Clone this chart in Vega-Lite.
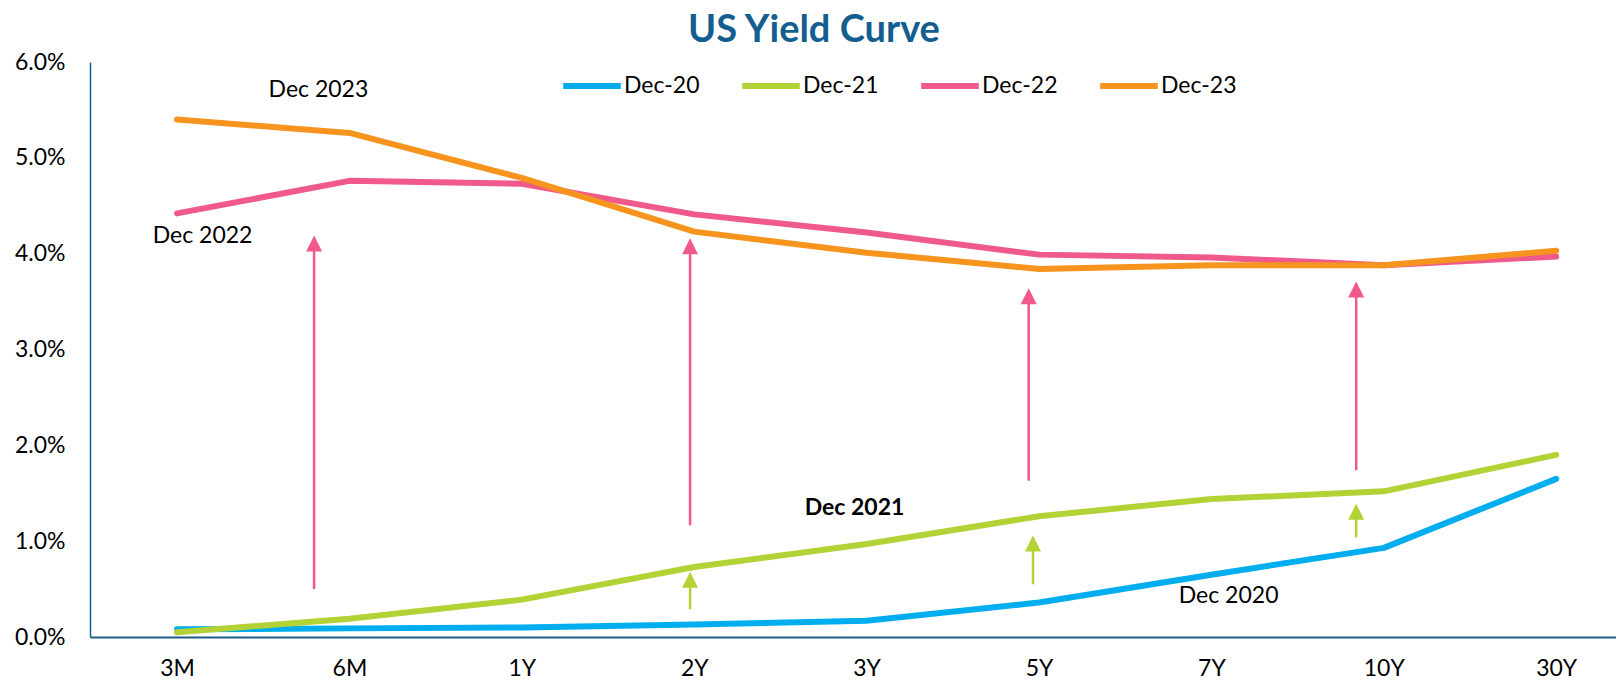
{
  "$schema": "https://vega.github.io/schema/vega-lite/v6.json",
  "width": 1526,
  "height": 575,
  "autosize": {"type": "none"},
  "padding": {"left": 90, "top": 62, "right": 0, "bottom": 44},
  "background": "white",
  "title": {
    "text": "US Yield Curve",
    "font": "Lato",
    "fontSize": 38,
    "fontWeight": "bold",
    "color": "#135E8F",
    "frame": "group",
    "anchor": "middle",
    "dx": -39,
    "offset": 1
  },
  "config": {
    "view": {"stroke": null},
    "axis": {"labelFont": "Lato", "labelFontSize": 23, "labelColor": "#000000", "ticks": false, "grid": false, "domainColor": "#1A5E8C", "domainWidth": 2, "title": null},
    "legend": {"labelFont": "Lato", "labelFontSize": 23, "labelColor": "#000000"}
  },
  "datasets": {
    "curves": [
      {"tenor": "3M", "pos": 0, "series": "Dec-20", "yield": 0.0008},
      {"tenor": "6M", "pos": 1, "series": "Dec-20", "yield": 0.0009},
      {"tenor": "1Y", "pos": 2, "series": "Dec-20", "yield": 0.0010},
      {"tenor": "2Y", "pos": 3, "series": "Dec-20", "yield": 0.0013},
      {"tenor": "3Y", "pos": 4, "series": "Dec-20", "yield": 0.0017},
      {"tenor": "5Y", "pos": 5, "series": "Dec-20", "yield": 0.0036},
      {"tenor": "7Y", "pos": 6, "series": "Dec-20", "yield": 0.0065},
      {"tenor": "10Y", "pos": 7, "series": "Dec-20", "yield": 0.0093},
      {"tenor": "30Y", "pos": 8, "series": "Dec-20", "yield": 0.0165},
      {"tenor": "3M", "pos": 0, "series": "Dec-21", "yield": 0.0005},
      {"tenor": "6M", "pos": 1, "series": "Dec-21", "yield": 0.0019},
      {"tenor": "1Y", "pos": 2, "series": "Dec-21", "yield": 0.0039},
      {"tenor": "2Y", "pos": 3, "series": "Dec-21", "yield": 0.0073},
      {"tenor": "3Y", "pos": 4, "series": "Dec-21", "yield": 0.0097},
      {"tenor": "5Y", "pos": 5, "series": "Dec-21", "yield": 0.0126},
      {"tenor": "7Y", "pos": 6, "series": "Dec-21", "yield": 0.0144},
      {"tenor": "10Y", "pos": 7, "series": "Dec-21", "yield": 0.0152},
      {"tenor": "30Y", "pos": 8, "series": "Dec-21", "yield": 0.0190},
      {"tenor": "3M", "pos": 0, "series": "Dec-22", "yield": 0.0442},
      {"tenor": "6M", "pos": 1, "series": "Dec-22", "yield": 0.0476},
      {"tenor": "1Y", "pos": 2, "series": "Dec-22", "yield": 0.0473},
      {"tenor": "2Y", "pos": 3, "series": "Dec-22", "yield": 0.0441},
      {"tenor": "3Y", "pos": 4, "series": "Dec-22", "yield": 0.0422},
      {"tenor": "5Y", "pos": 5, "series": "Dec-22", "yield": 0.0399},
      {"tenor": "7Y", "pos": 6, "series": "Dec-22", "yield": 0.0396},
      {"tenor": "10Y", "pos": 7, "series": "Dec-22", "yield": 0.0388},
      {"tenor": "30Y", "pos": 8, "series": "Dec-22", "yield": 0.0397},
      {"tenor": "3M", "pos": 0, "series": "Dec-23", "yield": 0.0540},
      {"tenor": "6M", "pos": 1, "series": "Dec-23", "yield": 0.0526},
      {"tenor": "1Y", "pos": 2, "series": "Dec-23", "yield": 0.0479},
      {"tenor": "2Y", "pos": 3, "series": "Dec-23", "yield": 0.0423},
      {"tenor": "3Y", "pos": 4, "series": "Dec-23", "yield": 0.0401},
      {"tenor": "5Y", "pos": 5, "series": "Dec-23", "yield": 0.0384},
      {"tenor": "7Y", "pos": 6, "series": "Dec-23", "yield": 0.0388},
      {"tenor": "10Y", "pos": 7, "series": "Dec-23", "yield": 0.0388},
      {"tenor": "30Y", "pos": 8, "series": "Dec-23", "yield": 0.0403}
    ],
    "arrows": [
      {"kind": "pink", "pos": 0.795, "from": 0.0050, "shaftTop": 0.0411, "tip": 0.0419},
      {"kind": "pink", "pos": 2.976, "from": 0.01165, "shaftTop": 0.0408, "tip": 0.0416},
      {"kind": "pink", "pos": 4.94, "from": 0.0163, "shaftTop": 0.0356, "tip": 0.0364},
      {"kind": "pink", "pos": 6.84, "from": 0.0174, "shaftTop": 0.0363, "tip": 0.0371},
      {"kind": "green", "pos": 2.976, "from": 0.0029, "shaftTop": 0.0060, "tip": 0.0068},
      {"kind": "green", "pos": 4.965, "from": 0.0055, "shaftTop": 0.0098, "tip": 0.0106},
      {"kind": "green", "pos": 6.84, "from": 0.0104, "shaftTop": 0.0131, "tip": 0.0139}
    ],
    "labels": [
      {"label": "Dec 2023", "pos": 0.82, "value": 0.0571, "emphasis": "normal"},
      {"label": "Dec 2022", "pos": 0.148, "value": 0.0418, "emphasis": "normal"},
      {"label": "Dec 2021", "pos": 3.93, "value": 0.0135, "emphasis": "bold"},
      {"label": "Dec 2020", "pos": 6.10, "value": 0.0043, "emphasis": "normal"}
    ]
  },
  "layer": [
    {
      "data": {"name": "arrows"},
      "transform": [{"filter": "datum.kind === 'pink'"}],
      "layer": [
        {
          "mark": {"type": "rule", "strokeWidth": 2.5, "color": "#F05A8A"},
          "encoding": {
            "x": {"field": "pos", "type": "quantitative"},
            "y": {"field": "from", "type": "quantitative"},
            "y2": {"field": "shaftTop"}
          }
        },
        {
          "mark": {"type": "point", "shape": "M-1,2L0,0L1,2Z", "size": 256, "filled": true, "opacity": 1, "strokeWidth": 0, "color": "#F05A8A"},
          "encoding": {
            "x": {"field": "pos", "type": "quantitative"},
            "y": {"field": "tip", "type": "quantitative"}
          }
        }
      ]
    },
    {
      "data": {"name": "arrows"},
      "transform": [{"filter": "datum.kind === 'green'"}],
      "layer": [
        {
          "mark": {"type": "rule", "strokeWidth": 2.5, "color": "#B2D235"},
          "encoding": {
            "x": {"field": "pos", "type": "quantitative"},
            "y": {"field": "from", "type": "quantitative"},
            "y2": {"field": "shaftTop"}
          }
        },
        {
          "mark": {"type": "point", "shape": "M-1,2L0,0L1,2Z", "size": 256, "filled": true, "opacity": 1, "strokeWidth": 0, "color": "#B2D235"},
          "encoding": {
            "x": {"field": "pos", "type": "quantitative"},
            "y": {"field": "tip", "type": "quantitative"}
          }
        }
      ]
    },
    {
      "data": {"name": "curves"},
      "mark": {"type": "line", "strokeWidth": 6, "strokeCap": "round", "strokeJoin": "round"},
      "encoding": {
        "x": {
          "field": "pos",
          "type": "quantitative",
          "scale": {"domain": [-0.505, 8.347], "nice": false, "zero": false},
          "axis": {
            "values": [0, 1, 2, 3, 4, 5, 6, 7, 8],
            "labelExpr": "['3M','6M','1Y','2Y','3Y','5Y','7Y','10Y','30Y'][datum.value]",
            "labelPadding": 20,
            "labelFlush": false,
            "labelOverlap": false
          }
        },
        "y": {
          "field": "yield",
          "type": "quantitative",
          "scale": {"domain": [0, 0.06], "nice": false},
          "axis": {"values": [0, 0.01, 0.02, 0.03, 0.04, 0.05, 0.06], "format": ".1%", "labelPadding": 25, "domainWidth": 1.5}
        },
        "color": {
          "field": "series",
          "type": "nominal",
          "scale": {"domain": ["Dec-20", "Dec-21", "Dec-22", "Dec-23"], "range": ["#00AEEF", "#B2D235", "#F05A8A", "#F7941D"]},
          "legend": {
            "orient": "none",
            "direction": "horizontal",
            "legendX": 470,
            "legendY": -8,
            "title": null,
            "symbolType": "stroke",
            "symbolSize": 3318,
            "symbolStrokeWidth": 6,
            "labelOffset": 0,
            "columnPadding": 30,
            "padding": 0
          }
        },
        "order": {"field": "pos", "type": "quantitative"}
      }
    },
    {
      "data": {"name": "labels"},
      "transform": [{"filter": "datum.emphasis === 'normal'"}],
      "mark": {"type": "text", "font": "Lato", "fontSize": 23, "color": "#000000", "align": "center", "baseline": "middle"},
      "encoding": {
        "x": {"field": "pos", "type": "quantitative"},
        "y": {"field": "value", "type": "quantitative"},
        "text": {"field": "label"}
      }
    },
    {
      "data": {"name": "labels"},
      "transform": [{"filter": "datum.emphasis === 'bold'"}],
      "mark": {"type": "text", "font": "Lato", "fontSize": 23, "fontWeight": "bold", "color": "#000000", "align": "center", "baseline": "middle"},
      "encoding": {
        "x": {"field": "pos", "type": "quantitative"},
        "y": {"field": "value", "type": "quantitative"},
        "text": {"field": "label"}
      }
    }
  ]
}
